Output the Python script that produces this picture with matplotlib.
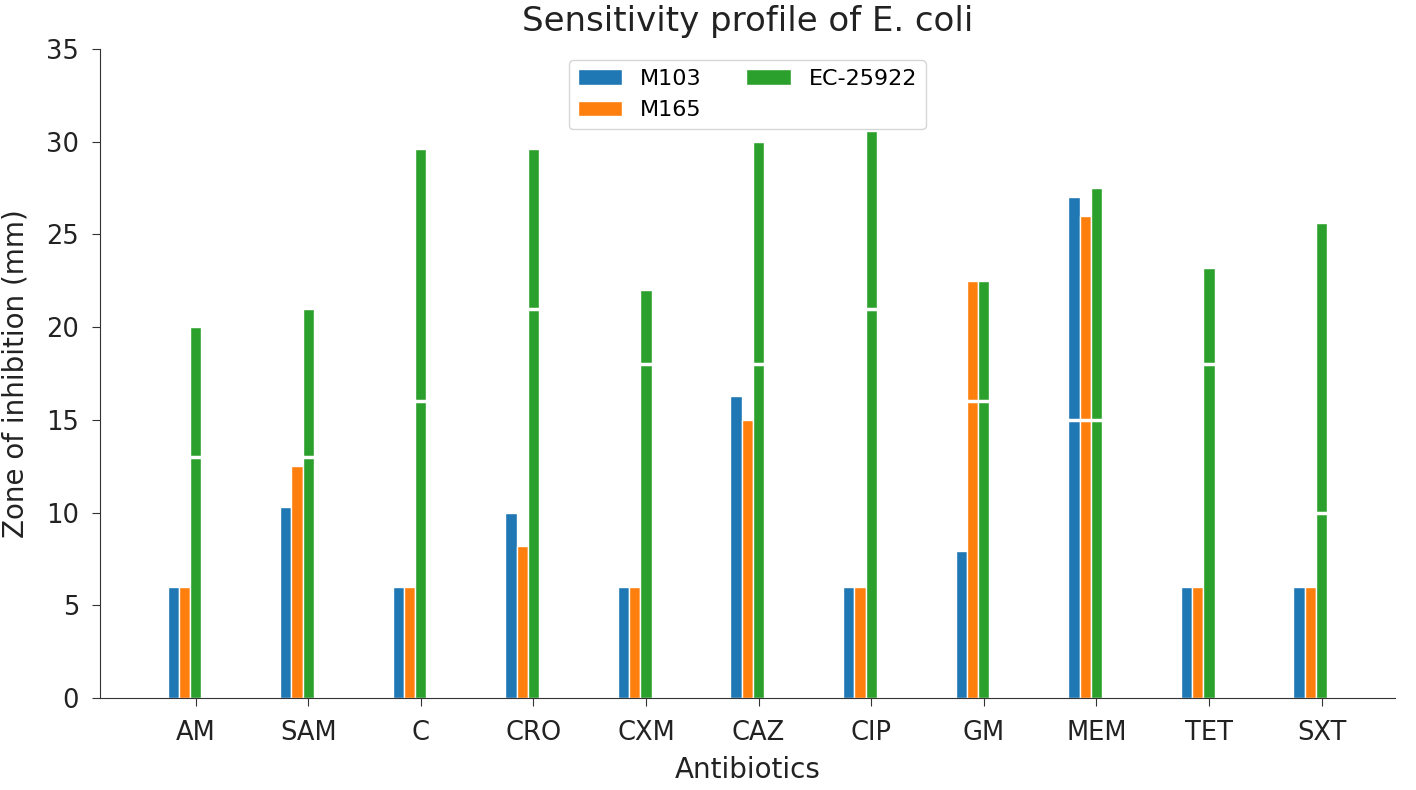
import matplotlib
matplotlib.use("Agg")
import matplotlib.pyplot as plt
import numpy as np

antibiotics = ["AM", "SAM", "C", "CRO", "CXM", "CAZ", "CIP", "GM", "MEM", "TET", "SXT"]
m103 = [6, 10.3, 6, 10, 6, 16.3, 6, 7.9, 27, 6, 6]
m165 = [6, 12.5, 6, 8.2, 6, 15, 6, 22.5, 26, 6, 6]
ec25922 = [20, 21, 29.6, 29.6, 22, 30, 30.6, 22.5, 27.5, 23.2, 25.6]
breakpoints = [13, 13, 16, 21, 18, 18, 21, 16, 15, 18, 10]

fig = plt.figure(figsize=(14.16, 7.9), dpi=100)
ax = fig.add_axes([0.0706, 0.1165, 0.9144, 0.8215])

x = np.arange(len(antibiotics))
w = 0.1
ax.bar(x - 0.2, m103, w, color="#1f77b4", edgecolor="white", linewidth=1, label="M103")
ax.bar(x - 0.1, m165, w, color="#ff7f0e", edgecolor="white", linewidth=1, label="M165")
ax.bar(x, ec25922, w, color="#2ca02c", edgecolor="white", linewidth=1, label="EC-25922")
ax.hlines(breakpoints, x - 0.27, x + 0.07, colors="white", linewidth=2.5, zorder=3)

ax.set_xlim(-0.85, 10.65)
ax.set_ylim(0, 35)
ax.set_xticks(x)
ax.set_xticklabels(antibiotics)
ax.tick_params(labelsize=18.5, length=6, colors="#333333", labelcolor="#222222")
ax.tick_params(axis="x", pad=10)
ax.tick_params(axis="y", pad=9)
ax.set_xlabel("Antibiotics", fontsize=20, color="#222222", labelpad=7)
ax.set_ylabel("Zone of inhibition (mm)", fontsize=20, color="#222222", labelpad=12)
ax.set_title("Sensitivity profile of E. coli", fontsize=24.5, pad=13, color="#222222")
for s in ["left", "bottom"]:
    ax.spines[s].set_color("#333333")
ax.spines["top"].set_visible(False)
ax.spines["right"].set_visible(False)
ax.legend(loc="upper center", ncol=2, fontsize=16, bbox_to_anchor=(0.5, 1.0))

fig.savefig("out.png", dpi=100)
